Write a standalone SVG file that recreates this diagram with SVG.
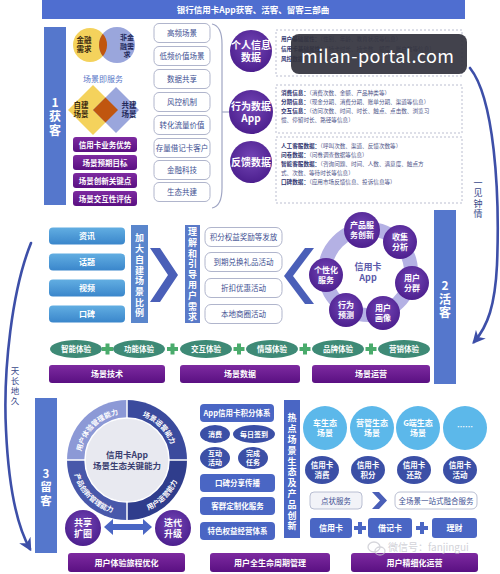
<svg xmlns="http://www.w3.org/2000/svg" width="500" height="574" viewBox="0 0 500 574">
<defs>
<radialGradient id="pc" cx="50%" cy="40%" r="60%"><stop offset="0" stop-color="#7446b6"/><stop offset="1" stop-color="#4c1f8e"/></radialGradient>
<linearGradient id="pb" x1="0" y1="0" x2="0" y2="1"><stop offset="0" stop-color="#7d2aa0"/><stop offset="1" stop-color="#5a1082"/></linearGradient>
<linearGradient id="lb" x1="0" y1="0" x2="0" y2="1"><stop offset="0" stop-color="#62aee2"/><stop offset="1" stop-color="#3a86cb"/></linearGradient>
<marker id="ah" viewBox="0 0 10 10" refX="8" refY="5" markerWidth="5" markerHeight="5" orient="auto"><path d="M0,0 L10,5 L0,10 L3,5 Z" fill="#3d4fa8"/></marker>
<path id="aTL" d="M80.5,460 A46.5,46.5 0 0 1 127,413.5"/>
<path id="aTR" d="M127,413.5 A46.5,46.5 0 0 1 173.5,460"/>
<path id="aBL" d="M72.5,460 A54.5,54.5 0 0 0 127,514.5"/>
<path id="aBR" d="M127,514.5 A54.5,54.5 0 0 0 181.5,460"/>
</defs>
<style>
text{font-family:"Noto Sans CJK SC","Noto Sans",sans-serif;}
.w{fill:#fff;font-weight:bold;}
.c{text-anchor:middle;}
.vt{writing-mode:vertical-rl;}
.bar{fill:#5577cc;}
.pbox{fill:url(#pb);}
.pcir{fill:url(#pc);}
.obox{fill:#fff;stroke:#b0b5cc;stroke-width:1;}
.otx{fill:#3e4f92;font-size:7.5px;text-anchor:middle;}
.dash{fill:#fff;stroke:#a9adc4;stroke-width:0.8;stroke-dasharray:2 2;}
.sm{fill:#4d5388;font-size:5.6px;}
.sm tspan.b{fill:#2e3470;font-weight:bold;}
.ge{fill:#3e8a76;}
.gp{fill:#4aab6c;}
.bb{fill:#4a66c4;}
.de{fill:#3b4fa6;}
.lc{fill:#5cb8ea;}
.arc{fill:none;stroke:#3d4fa8;stroke-width:2.6;stroke-linecap:round;}
</style>
<rect width="500" height="574" fill="#fff"/>

<!-- title -->
<g id="title">
<rect x="42" y="0" width="423" height="19" fill="#4f6ed0"/>
<text x="253" y="13" class="w c" font-size="8.5">银行信用卡App获客、活客、留客三部曲</text>
</g>

<!-- section 1 -->
<g id="s1bar">
<rect x="44" y="27" width="22" height="178" class="bar"/>
<text x="55" y="107" class="w c" font-size="12">1</text>
<text x="55" y="110" class="w vt" font-size="12" letter-spacing="2">获客</text>
</g>
<g id="venn">
<circle cx="90" cy="45" r="17" fill="#f4d25c"/>
<circle cx="117" cy="45" r="18" fill="#9aa6dc"/>
<path d="M102.85,33.87 A17,17 0 0 1 102.85,56.13 A18,18 0 0 1 102.85,33.87 Z" fill="#c0560f"/>
<text x="84" y="43" class="c" font-size="7.5" font-weight="bold" fill="#3a2a10"><tspan x="84">金融</tspan><tspan x="84" dy="9">需求</tspan></text>
<text x="127" y="40" class="c" font-size="7" font-weight="bold" fill="#22285a"><tspan x="127">非金</tspan><tspan x="127" dy="8.5">融需</tspan><tspan x="127" dy="8.5">求</tspan></text>
<text x="103" y="82" class="c" font-size="8" fill="#5a78c8">场景即服务</text>
</g>
<g id="diamonds">
<polygon points="93,85 118,110 93,135 68,110" fill="#f4d25c"/>
<polygon points="116,87 139,110 116,133 93,110" fill="#9aa6dc"/>
<polygon points="93,110 105.5,97.5 118,110 105.5,122.5" fill="#c0560f"/>
<text x="81" y="108" class="c" font-size="7.5" font-weight="bold" fill="#3a2a10"><tspan x="81">自建</tspan><tspan x="81" dy="9">场景</tspan></text>
<text x="129" y="108" class="c" font-size="7.5" font-weight="bold" fill="#22285a"><tspan x="129">共建</tspan><tspan x="129" dy="9">场景</tspan></text>
</g>
<g id="s1purple">
<rect x="73" y="137" width="64" height="15" rx="3" class="pbox"/>
<text x="105" y="147.5" class="w c" font-size="7.5">信用卡业务优势</text>
<rect x="73" y="155" width="64" height="15" rx="3" class="pbox"/>
<text x="105" y="165.5" class="w c" font-size="7.5">场景预期目标</text>
<rect x="73" y="173" width="64" height="15" rx="3" class="pbox"/>
<text x="105" y="183.5" class="w c" font-size="7.5">场景创新关键点</text>
<rect x="73" y="191" width="64" height="15" rx="3" class="pbox"/>
<text x="105" y="201.5" class="w c" font-size="7.5">场景交互性评估</text>
</g>
<g id="s1list">
<rect x="154" y="23.5" width="56" height="19" rx="5" class="obox"/><text x="182" y="36" class="otx">高频场景</text>
<rect x="154" y="46.5" width="56" height="19" rx="5" class="obox"/><text x="182" y="59" class="otx">低频价值场景</text>
<rect x="154" y="69.5" width="56" height="19" rx="5" class="obox"/><text x="182" y="82" class="otx">数据共享</text>
<rect x="154" y="92.5" width="56" height="19" rx="5" class="obox"/><text x="182" y="105" class="otx">风控机制</text>
<rect x="154" y="115.5" width="56" height="19" rx="5" class="obox"/><text x="182" y="128" class="otx">转化流量价值</text>
<rect x="154" y="138.5" width="56" height="19" rx="5" class="obox"/><text x="182" y="151" class="otx">存量借记卡客户</text>
<rect x="154" y="160.5" width="56" height="19" rx="5" class="obox"/><text x="182" y="173" class="otx">金融科技</text>
<rect x="154" y="182.5" width="56" height="19" rx="5" class="obox"/><text x="182" y="195" class="otx">生态共建</text>
</g>
<g id="connectors">
<path d="M212,24 Q222,26 222,44 L222,188 Q222,206 212,208" fill="none" stroke="#a0a6c4" stroke-width="1.2"/>
<line x1="222" y1="112" x2="229" y2="112" stroke="#a0a6c4" stroke-width="1.2"/>
<path class="arc" d="M470,68 C494,98 500,190 497,265 C495,305 488,326 474,342" marker-end="url(#ah)"/>
<path class="arc" d="M31,243 C12,290 3,370 6,430 C9,495 18,528 30,549" marker-end="url(#ah)"/>
<polygon points="150,248 160,248 178,275 160,302 150,302 168,275" fill="#4a5fb8"/>
<polygon points="305,248 314,248 293,276 314,304 305,304 284,276" fill="#4a5fb8"/>
<polygon points="104,527 113,519 113,524 143,524 143,519 152,527 143,535 143,530 113,530 113,535" fill="#4a66c4"/>
<polygon points="372,492 379,492 387,500.5 379,509 372,509 380,500.5" fill="#4a5fb8"/>
</g>
<g id="arcLabels">
<text x="478" y="178" class="vt" font-size="9" letter-spacing="1.5" fill="#3a4a8a">一见钟情</text>
<text x="15" y="366.5" class="vt" font-size="8.5" letter-spacing="1.5" fill="#3a4a8a">天长地久</text>
</g>
<g id="dataCircles">
<circle cx="251" cy="51" r="21" class="pcir"/>
<text x="251" y="49" class="w c" font-size="10"><tspan x="251">个人信息</tspan><tspan x="251" dy="12">数据</tspan></text>
<circle cx="251" cy="112" r="22" class="pcir"/>
<text x="251" y="110" class="w c" font-size="10"><tspan x="251">行为数据</tspan><tspan x="251" dy="12">App</tspan></text>
<circle cx="251" cy="162" r="21" class="pcir"/>
<text x="251" y="166" class="w c" font-size="10">反馈数据</text>
</g>
<g id="dataBoxes">
<rect x="276" y="30" width="186" height="46" class="dash"/>
<text class="sm"><tspan x="281" y="41" class="b">用户基础属性：</tspan><tspan>（性别、年龄、教育状况等信息）</tspan><tspan x="281" y="51" class="b">信用卡基础属性：</tspan><tspan>（持卡时长、持卡数、额度、账户数等信息）</tspan><tspan x="281" y="61" class="b">风控数据</tspan></text>
<rect x="276" y="85" width="186" height="48" class="dash"/>
<text class="sm"><tspan x="281" y="95" class="b">消费信息：</tspan><tspan>（消费次数、金额、产品种类等）</tspan><tspan x="281" y="104" class="b">分期信息：</tspan><tspan>（现金分期、消费分期、账单分期、渠道等信息）</tspan><tspan x="281" y="113" class="b">交互信息：</tspan><tspan>（访问次数、时间、时长、触点、点击数、浏览习</tspan><tspan x="281" y="122">惯、停留时长、路径等信息）</tspan></text>
<rect x="276" y="137" width="186" height="66" class="dash"/>
<text class="sm"><tspan x="281" y="148" class="b">人工客服数据：</tspan><tspan>（呼叫次数、渠道、反馈次数等）</tspan><tspan x="281" y="157" class="b">问卷数据：</tspan><tspan>（问卷调查数据等信息）</tspan><tspan x="281" y="166" class="b">智能客服数据：</tspan><tspan>（咨询问题、时间、人数、满意度、触点方</tspan><tspan x="281" y="175">式、次数、等待时长等信息）</tspan><tspan x="281" y="184" class="b">口碑数据：</tspan><tspan>（应用市场反馈信息、投诉信息等）</tspan></text>
</g>

<!-- section 2 -->
<g id="s2bar">
<rect x="434" y="210" width="22" height="174" class="bar"/>
<text x="445" y="290" class="w c" font-size="12">2</text>
<text x="445" y="293" class="w vt" font-size="12" letter-spacing="1.5">活客</text>
</g>
<g id="channels">
<rect x="49" y="227.5" width="76" height="17" rx="4" fill="url(#lb)"/><text x="87" y="239" class="w c" font-size="8">资讯</text>
<rect x="49" y="253.5" width="76" height="17" rx="4" fill="url(#lb)"/><text x="87" y="265" class="w c" font-size="8">话题</text>
<rect x="49" y="279.5" width="76" height="17" rx="4" fill="url(#lb)"/><text x="87" y="291" class="w c" font-size="8">视频</text>
<rect x="49" y="305.5" width="76" height="17" rx="4" fill="url(#lb)"/><text x="87" y="317" class="w c" font-size="8">口碑</text>
</g>
<g id="vbar1">
<rect x="131" y="225" width="17" height="98" fill="#5a86cc"/>
<text x="139.5" y="233.5" class="w vt" font-size="9" letter-spacing="1.7">加大自建场景比例</text>
</g>
<g id="vbar2">
<rect x="185" y="225" width="15" height="98" fill="#5a7ac8"/>
<text x="192.5" y="227.5" class="w vt" font-size="9" letter-spacing="1.6">理解和引导用户需求</text>
</g>
<g id="activities">
<rect x="205" y="227.5" width="77" height="19" rx="6" class="obox"/><text x="243.5" y="240" class="otx">积分权益奖励等发放</text>
<rect x="205" y="252.5" width="77" height="19" rx="6" class="obox"/><text x="243.5" y="265" class="otx">到期兑换礼品活动</text>
<rect x="205" y="278.5" width="77" height="19" rx="6" class="obox"/><text x="243.5" y="291" class="otx">折扣优惠活动</text>
<rect x="205" y="304.5" width="77" height="19" rx="6" class="obox"/><text x="243.5" y="317" class="otx">本地商圈活动</text>
</g>
<g id="appCycle">
<circle cx="368" cy="272" r="43" fill="none" stroke="#b4b1e4" stroke-width="14"/>
<text x="368" y="270" class="c" font-size="9" font-weight="bold" fill="#5a5aaa"><tspan x="368">信用卡</tspan><tspan x="368" dy="11">App</tspan></text>
<circle cx="362" cy="230" r="18" class="pcir"/><text x="362" y="228" class="w c" font-size="8"><tspan x="362">产品服</tspan><tspan x="362" dy="10">务创新</tspan></text>
<circle cx="400" cy="242" r="17" class="pcir"/><text x="400" y="240" class="w c" font-size="8"><tspan x="400">收集</tspan><tspan x="400" dy="10">分析</tspan></text>
<circle cx="412" cy="283" r="17" class="pcir"/><text x="412" y="281" class="w c" font-size="8"><tspan x="412">用户</tspan><tspan x="412" dy="10">分群</tspan></text>
<circle cx="383" cy="313" r="17" class="pcir"/><text x="383" y="311" class="w c" font-size="8"><tspan x="383">用户</tspan><tspan x="383" dy="10">画像</tspan></text>
<circle cx="346" cy="310" r="17" class="pcir"/><text x="346" y="308" class="w c" font-size="8"><tspan x="346">行为</tspan><tspan x="346" dy="10">预测</tspan></text>
<circle cx="326" cy="275" r="17" class="pcir"/><text x="326" y="273" class="w c" font-size="8"><tspan x="326">个性化</tspan><tspan x="326" dy="10">服务</tspan></text>
</g>
<g id="experiences">
<ellipse cx="76" cy="349" rx="26" ry="9" class="ge"/><text x="76" y="352" class="w c" font-size="7.5">智能体验</text>
<ellipse cx="139" cy="349" rx="26" ry="9" class="ge"/><text x="139" y="352" class="w c" font-size="7.5">功能体验</text>
<ellipse cx="206" cy="349" rx="26" ry="9" class="ge"/><text x="206" y="352" class="w c" font-size="7.5">交互体验</text>
<ellipse cx="272" cy="349" rx="26" ry="9" class="ge"/><text x="272" y="352" class="w c" font-size="7.5">情感体验</text>
<ellipse cx="338" cy="349" rx="26" ry="9" class="ge"/><text x="338" y="352" class="w c" font-size="7.5">品牌体验</text>
<ellipse cx="404" cy="349" rx="26" ry="9" class="ge"/><text x="404" y="352" class="w c" font-size="7.5">营销体验</text>
<path class="gp" d="M105.5,343.5h4v3.5h3.5v4h-3.5v3.5h-4v-3.5h-3.5v-4h3.5z"/>
<path class="gp" d="M170.5,343.5h4v3.5h3.5v4h-3.5v3.5h-4v-3.5h-3.5v-4h3.5z"/>
<path class="gp" d="M237,343.5h4v3.5h3.5v4h-3.5v3.5h-4v-3.5h-3.5v-4h3.5z"/>
<path class="gp" d="M303,343.5h4v3.5h3.5v4h-3.5v3.5h-4v-3.5h-3.5v-4h3.5z"/>
<path class="gp" d="M369,343.5h4v3.5h3.5v4h-3.5v3.5h-4v-3.5h-3.5v-4h3.5z"/>
</g>
<g id="s2bottom">
<rect x="49" y="365" width="116" height="18" rx="3" class="pbox"/><text x="107" y="377" class="w c" font-size="8">场景技术</text>
<rect x="180" y="365" width="120" height="18" rx="3" class="pbox"/><text x="240" y="377" class="w c" font-size="8">场景数据</text>
<rect x="312" y="365" width="118" height="18" rx="3" class="pbox"/><text x="371" y="377" class="w c" font-size="8">场景运营</text>
</g>

<!-- section 3 -->
<g id="s3bar">
<rect x="35" y="398" width="22" height="155" class="bar"/>
<text x="46" y="478" class="w c" font-size="11.5">3</text>
<text x="46" y="481" class="w vt" font-size="11.5" letter-spacing="2">留客</text>
</g>
<g id="capRing">
<path d="M127,460 L67,460 A60,60 0 0 1 127,400 Z" fill="#8c99d6"/>
<path d="M127,460 L127,400 A60,60 0 0 1 187,460 Z" fill="#3b4b9d"/>
<path d="M127,460 L187,460 A60,60 0 0 1 127,520 Z" fill="#2f3d8c"/>
<path d="M127,460 L127,520 A60,60 0 0 1 67,460 Z" fill="#4858aa"/>
<line x1="67" y1="460" x2="187" y2="460" stroke="#fff" stroke-width="1.5"/>
<line x1="127" y1="400" x2="127" y2="520" stroke="#fff" stroke-width="1.5"/>
<circle cx="127" cy="460" r="42" fill="#e8e9f0" stroke="#fff" stroke-width="1.5"/>
<text x="127" y="458" class="c" font-size="8.5" font-weight="bold" fill="#3a3f70"><tspan x="127">信用卡App</tspan><tspan x="127" dy="10.5">场景生态关键能力</tspan></text>
<text class="w" font-size="7"><textPath href="#aTL" startOffset="50%" text-anchor="middle">用户体验管理能力</textPath></text>
<text class="w" font-size="7"><textPath href="#aTR" startOffset="50%" text-anchor="middle">场景运营能力</textPath></text>
<text class="w" font-size="7"><textPath href="#aBL" startOffset="50%" text-anchor="middle">产品创新管理能力</textPath></text>
<text class="w" font-size="7"><textPath href="#aBR" startOffset="50%" text-anchor="middle">用户运营能力</textPath></text>
</g>
<g id="shareCircles">
<circle cx="83" cy="528" r="18" class="pcir"/><text x="83" y="526" class="w c" font-size="9"><tspan x="83">共享</tspan><tspan x="83" dy="11">扩圈</tspan></text>
<circle cx="173" cy="528" r="18" class="pcir"/><text x="173" y="526" class="w c" font-size="9"><tspan x="173">迭代</tspan><tspan x="173" dy="11">升级</tspan></text>
</g>
<g id="points">
<rect x="200" y="404" width="74" height="18" rx="4" class="bb"/><text x="237" y="416" class="w c" font-size="7.5">App信用卡积分体系</text>
<ellipse cx="215" cy="434" rx="15" ry="9" class="de"/><text x="215" y="437" class="w c" font-size="7">消费</text>
<ellipse cx="254" cy="434" rx="21" ry="9" class="de"/><text x="254" y="437" class="w c" font-size="7">每日签到</text>
<ellipse cx="215" cy="458" rx="15" ry="11" class="de"/><text x="215" y="456" class="w c" font-size="7"><tspan x="215">互动</tspan><tspan x="215" dy="8.5">活动</tspan></text>
<ellipse cx="253" cy="458" rx="15" ry="11" class="de"/><text x="253" y="456" class="w c" font-size="7"><tspan x="253">完成</tspan><tspan x="253" dy="8.5">任务</tspan></text>
<rect x="200" y="474" width="75" height="18" rx="4" class="bb"/><text x="237.5" y="486" class="w c" font-size="7.5">口碑分享传播</text>
<rect x="200" y="497" width="75" height="18" rx="4" class="bb"/><text x="237.5" y="509" class="w c" font-size="7.5">客群定制化服务</text>
<rect x="200" y="522" width="75" height="18" rx="4" class="bb"/><text x="237.5" y="534" class="w c" font-size="7.5">特色权益经营体系</text>
</g>
<g id="vbar3">
<rect x="284" y="400" width="16" height="138" class="bb"/>
<text x="292" y="413.5" class="w vt" font-size="9" letter-spacing="1.8">热点场景生态及产品创新</text>
</g>
<g id="ecosystem">
<circle cx="325" cy="428" r="22" class="lc"/><text x="325" y="426" class="w c" font-size="8"><tspan x="325">车生态</tspan><tspan x="325" dy="10">场景</tspan></text>
<circle cx="372" cy="428" r="22" class="lc"/><text x="372" y="426" class="w c" font-size="8"><tspan x="372">营管生态</tspan><tspan x="372" dy="10">场景</tspan></text>
<circle cx="418" cy="428" r="22" class="lc"/><text x="418" y="426" class="w c" font-size="8"><tspan x="418">G端生态</tspan><tspan x="418" dy="10">场景</tspan></text>
<circle cx="465" cy="428" r="22" class="lc"/><text x="465" y="430" class="w c" font-size="8">……</text>
<ellipse cx="322" cy="470" rx="17" ry="14" class="de"/><text x="322" y="468" class="w c" font-size="7.5"><tspan x="322">信用卡</tspan><tspan x="322" dy="9.5">消费</tspan></text>
<ellipse cx="368" cy="470" rx="17" ry="14" class="de"/><text x="368" y="468" class="w c" font-size="7.5"><tspan x="368">信用卡</tspan><tspan x="368" dy="9.5">积分</tspan></text>
<ellipse cx="414" cy="470" rx="17" ry="14" class="de"/><text x="414" y="468" class="w c" font-size="7.5"><tspan x="414">信用卡</tspan><tspan x="414" dy="9.5">还款</tspan></text>
<ellipse cx="460" cy="470" rx="17" ry="14" class="de"/><text x="460" y="468" class="w c" font-size="7.5"><tspan x="460">信用卡</tspan><tspan x="460" dy="9.5">活动</tspan></text>
<rect x="310" y="492" width="52" height="17" rx="4" fill="#f2f3f8" stroke="#aab0c8" stroke-width="0.8"/><text x="336" y="503.5" class="otx" font-size="7">点状服务</text>
<rect x="395" y="492" width="82" height="17" rx="5" fill="#fff" stroke="#aab0c8" stroke-width="0.8"/><text x="436" y="503.5" class="otx" font-size="7">全场景一站式融合服务</text>
<rect x="310" y="518" width="42" height="20" rx="3" class="bb"/><text x="331" y="531" class="w c" font-size="8">信用卡</text>
<rect x="368" y="518" width="44" height="20" rx="3" class="bb"/><text x="390" y="531" class="w c" font-size="8">借记卡</text>
<rect x="432" y="518" width="45" height="20" rx="3" class="bb"/><text x="454.5" y="531" class="w c" font-size="8">理财</text>
<path class="bb" d="M358,522h4v4h4v4h-4v4h-4v-4h-4v-4h4z"/>
<path class="bb" d="M420,522h4v4h4v4h-4v4h-4v-4h-4v-4h4z"/>
</g>
<g id="s3bottom">
<rect x="68" y="553" width="117" height="19" rx="3" class="pbox"/><text x="126.5" y="565.5" class="w c" font-size="8">用户体验旅程优化</text>
<rect x="210" y="553" width="120" height="19" rx="3" class="pbox"/><text x="270" y="565.5" class="w c" font-size="8">用户全生命周期管理</text>
<rect x="351" y="553" width="127" height="19" rx="3" class="pbox"/><text x="414.5" y="565.5" class="w c" font-size="8">用户精细化运营</text>
</g>

<!-- overlays -->
<g id="wechatMark" opacity="0.75">
<ellipse cx="374" cy="547" rx="6" ry="5" fill="none" stroke="#c8c8d0" stroke-width="1.3"/>
<ellipse cx="380" cy="551" rx="5" ry="4" fill="none" stroke="#c8c8d0" stroke-width="1.3"/>
<text x="388" y="551" font-size="10" fill="#c4c4cc">微信号：fanjingui</text>
</g>
<g id="siteMark">
<rect x="291" y="34" width="176" height="40" rx="8" fill="#34343e" opacity="0.93"/>
<text x="301" y="63" font-family="Noto Sans, sans-serif" font-size="18" fill="#fff" textLength="153">milan-portal.com</text>
</g>
</svg>
